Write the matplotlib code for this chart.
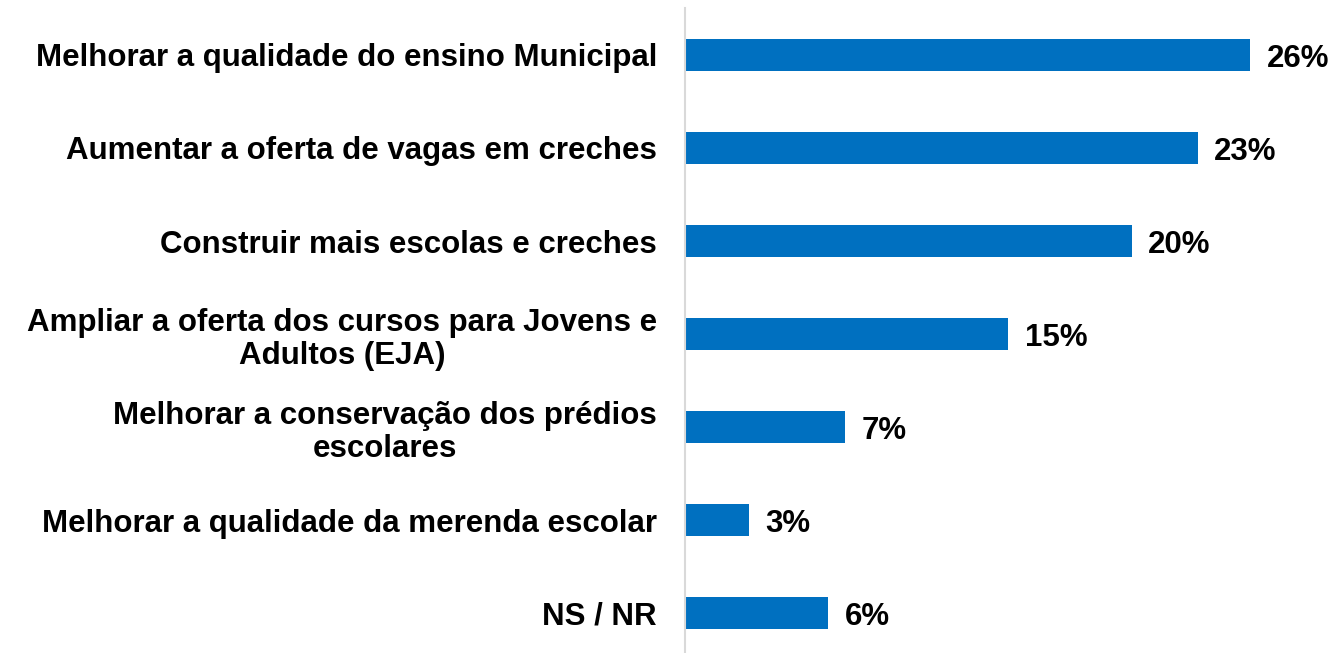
import matplotlib
matplotlib.use('Agg')
import matplotlib.pyplot as plt

plt.rcParams['font.family'] = ['Liberation Sans', 'DejaVu Sans']

categorias = ['Melhorar a qualidade do ensino Municipal',
              'Aumentar a oferta de vagas em creches',
              'Construir mais escolas e creches',
              'Ampliar a oferta dos cursos para Jovens e\nAdultos (EJA)',
              'Melhorar a conservação dos prédios\nescolares',
              'Melhorar a qualidade da merenda escolar',
              'NS / NR']
valores = [25.7, 23.3, 20.3, 14.7, 7.3, 2.9, 6.5]
rotulos = ['26%', '23%', '20%', '15%', '7%', '3%', '6%']

fig = plt.figure(figsize=(13.35, 6.53), dpi=100)
ax = fig.add_axes([0.513, -0.01, 0.478, 0.997])

y = list(range(len(categorias)))
ax.barh(y, valores, height=0.345, color='#0070C0')
ax.set_ylim(len(categorias) - 0.5, -0.5)
ax.set_xlim(0, 29)

for yi, v, r in zip(y, valores, rotulos):
    ax.text(v + 0.75, yi + 0.04, r, va='center', ha='left', fontsize=22.5, fontweight='bold')

ax.set_yticks(y)
ax.set_yticklabels(categorias, fontsize=22.5, fontweight='bold', multialignment='center',
                   linespacing=1.15)
ax.tick_params(axis='y', length=0, pad=20)
ax.set_xticks([])

for s in ['top', 'right', 'bottom']:
    ax.spines[s].set_visible(False)
ax.spines['left'].set_color('#d9d9d9')
ax.spines['left'].set_linewidth(1.5)

fig.savefig('out.png', dpi=100)
